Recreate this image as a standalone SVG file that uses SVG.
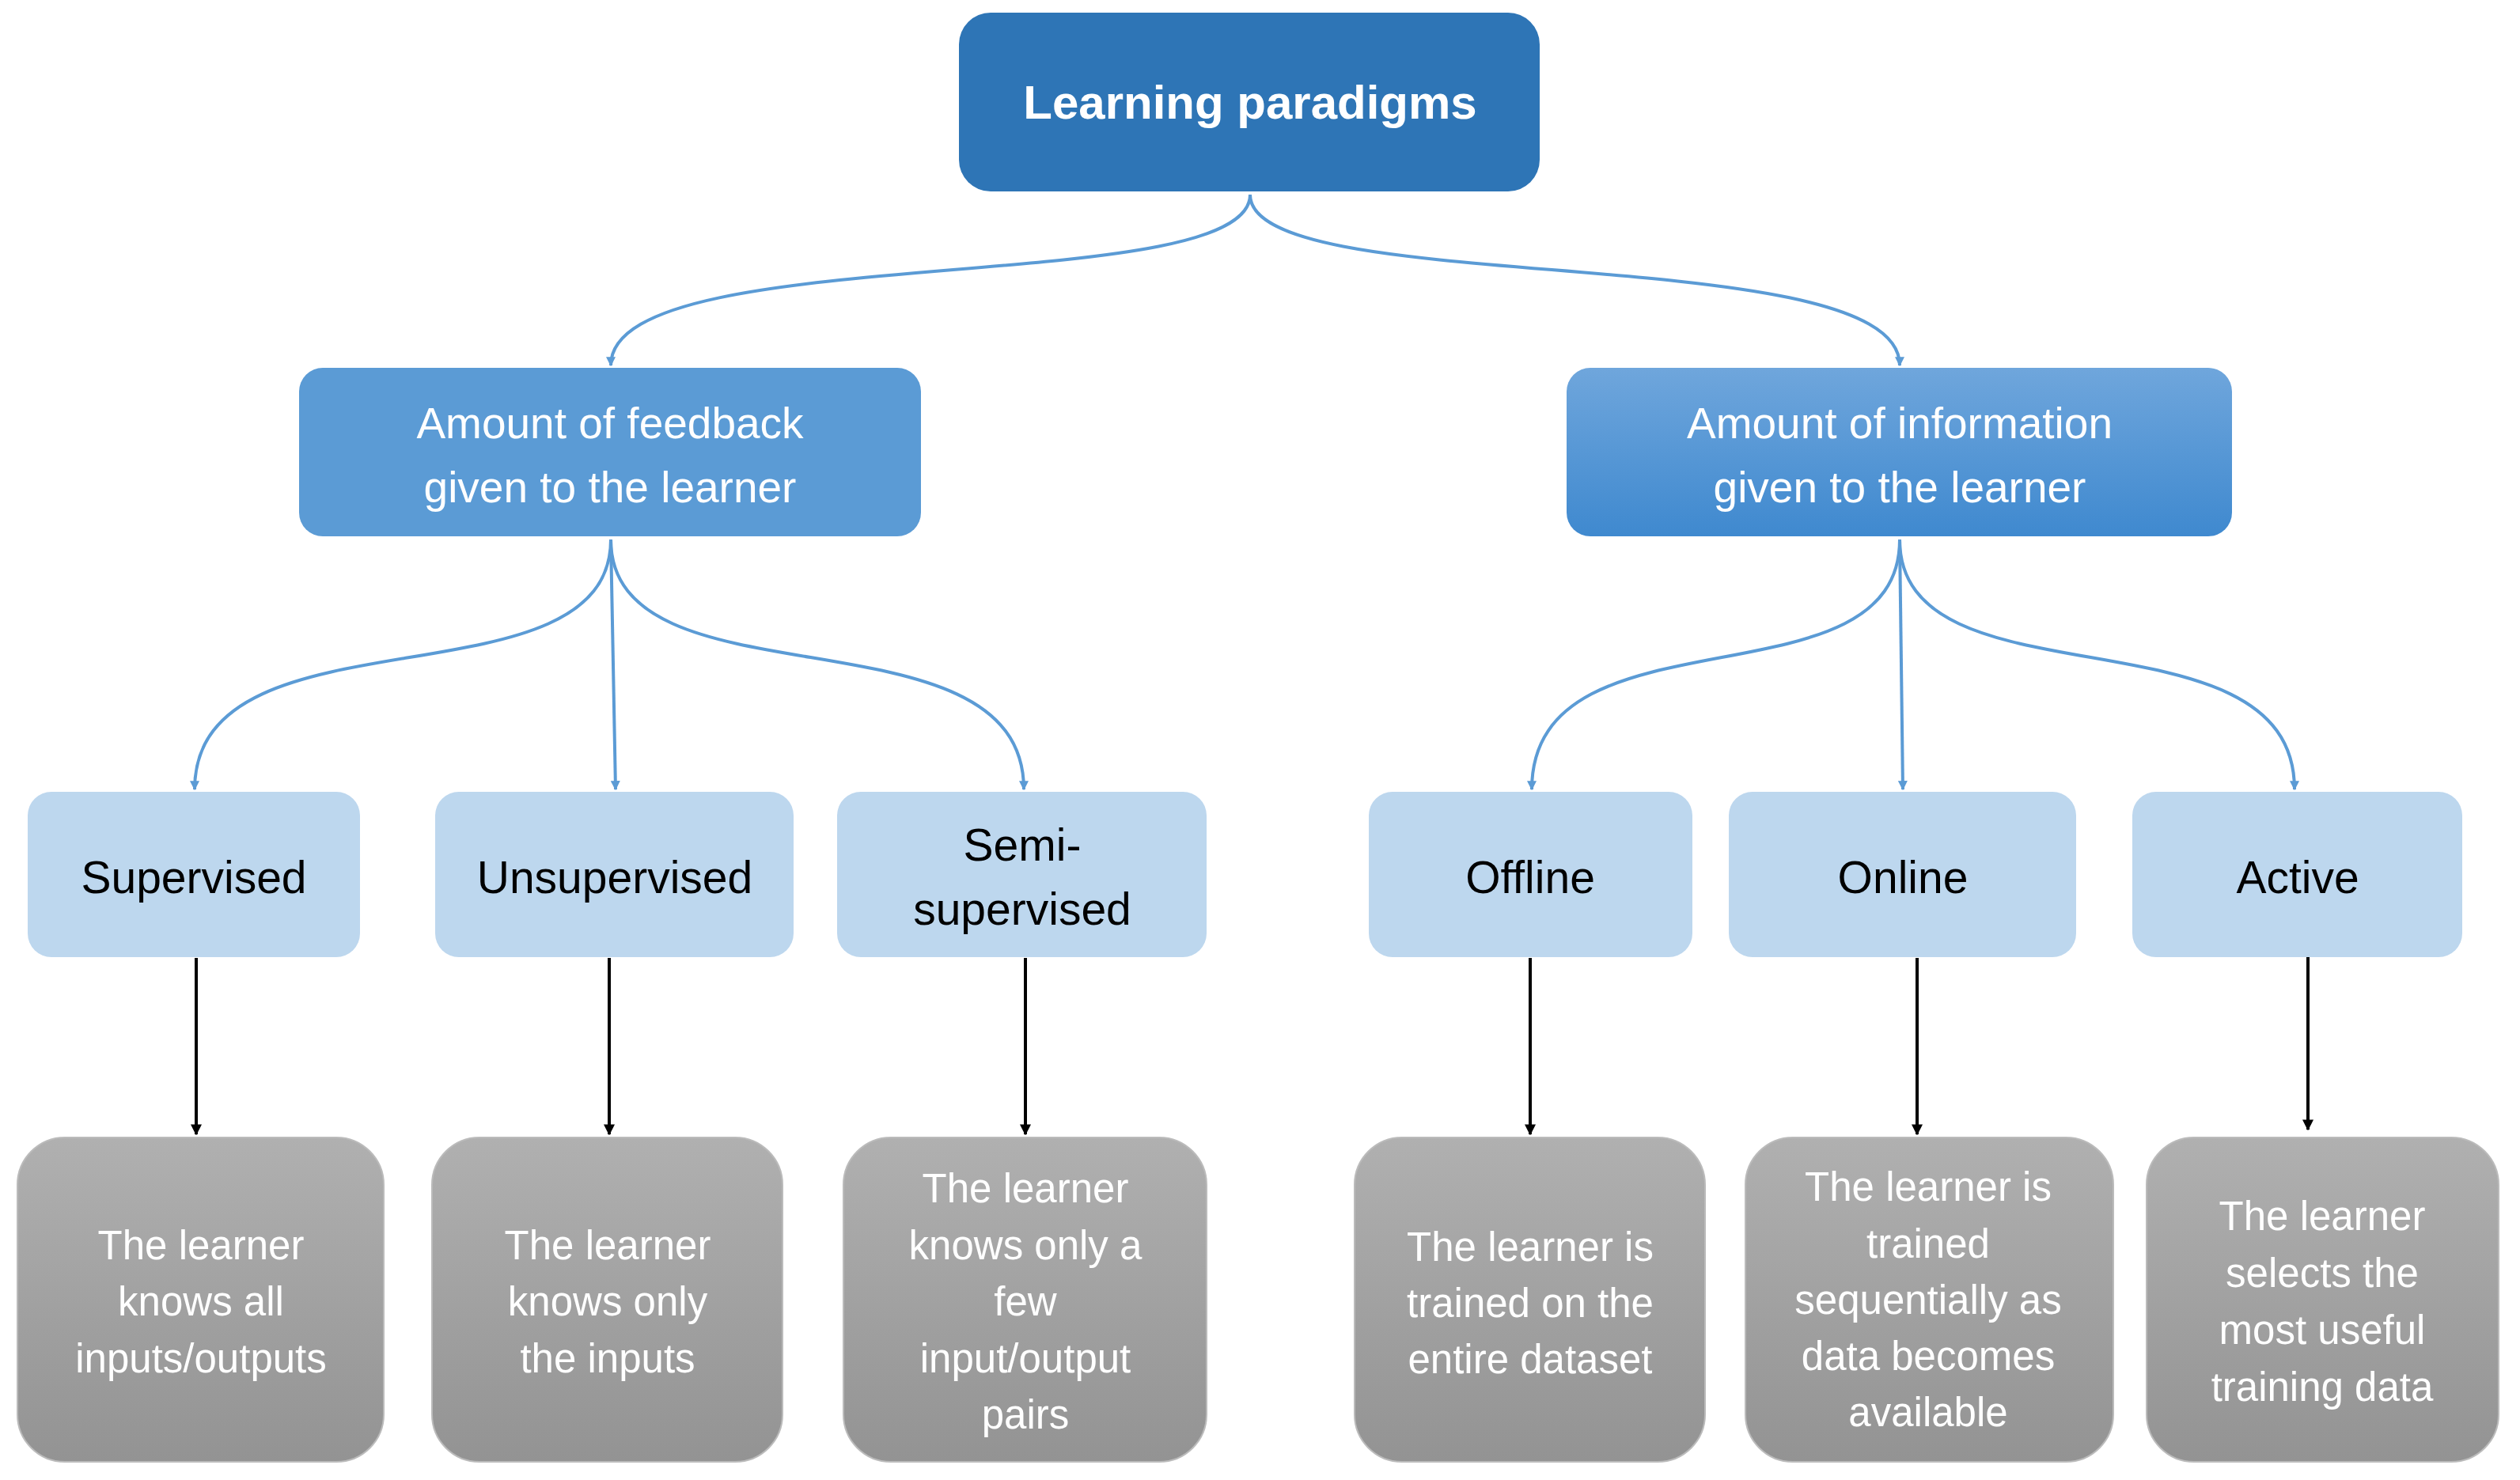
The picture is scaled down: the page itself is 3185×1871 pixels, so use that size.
<svg xmlns="http://www.w3.org/2000/svg" width="3185" height="1871" viewBox="0 0 3185 1871">
<defs>
<linearGradient id="gInfo" x1="0" y1="0" x2="0" y2="1"><stop offset="0" stop-color="#6FA6DC"/><stop offset="1" stop-color="#3F89CF"/></linearGradient>
<linearGradient id="gGrey" x1="0" y1="0" x2="0" y2="1"><stop offset="0" stop-color="#B0B0B0"/><stop offset="1" stop-color="#939393"/></linearGradient>
<marker id="ab" viewBox="0 0 10 10" refX="9" refY="5" markerWidth="12" markerHeight="12" markerUnits="userSpaceOnUse" orient="auto"><path d="M0,0 L10,5 L0,10 z" fill="#5B9BD5"/></marker>
<marker id="ak" viewBox="0 0 10 10" refX="9" refY="5" markerWidth="14" markerHeight="14" markerUnits="userSpaceOnUse" orient="auto"><path d="M0,0 L10,5 L0,10 z" fill="#000"/></marker>
</defs>
<style>
text{font-family:"Liberation Sans","Open Sans",sans-serif;text-anchor:middle}
.root{font-size:60px;font-weight:bold;fill:#fff}
.l1{font-size:55px;fill:#fff}
.l2{font-size:57px;fill:#000}
.d{font-size:51px;fill:#fff}
.b2{fill:#BDD7EE}
.g{fill:url(#gGrey);stroke:#BBBBBB;stroke-width:2}
.c{fill:none;stroke:#5B9BD5;stroke-width:4;marker-end:url(#ab)}
.k{fill:none;stroke:#000;stroke-width:4;marker-end:url(#ak)}
</style>
<g id="connectors">
<path class="c" d="M1580,246 C1580,380 772,300 772,462"/>
<path class="c" d="M1580,246 C1580,380 2401,300 2401,462"/>
<path class="c" d="M772,682 C772,900 246,760 246,998"/>
<path class="c" d="M772,682 L778,998"/>
<path class="c" d="M772,682 C772,900 1294,760 1294,998"/>
<path class="c" d="M2401,682 C2401,900 1936,760 1936,998"/>
<path class="c" d="M2401,682 L2405,998"/>
<path class="c" d="M2401,682 C2401,900 2900,760 2900,998"/>
<path class="k" d="M248,1211 L248,1434"/>
<path class="k" d="M770,1211 L770,1434"/>
<path class="k" d="M1296,1211 L1296,1434"/>
<path class="k" d="M1934,1211 L1934,1434"/>
<path class="k" d="M2423,1211 L2423,1434"/>
<path class="k" d="M2917,1205 L2917,1428"/>
</g>
<g id="root"><rect x="1212" y="16" width="734" height="226" rx="40" fill="#2E75B6"/><text class="root" x="1580" y="150">Learning paradigms</text></g>
<g id="feedback"><rect x="378" y="465" width="786" height="213" rx="30" fill="#5B9BD5"/><text class="l1" x="771" y="554">Amount of feedback</text><text class="l1" x="771" y="635">given to the learner</text></g>
<g id="information"><rect x="1980" y="465" width="841" height="213" rx="30" fill="url(#gInfo)"/><text class="l1" x="2401" y="554">Amount of information</text><text class="l1" x="2401" y="635">given to the learner</text></g>
<g id="supervised"><rect class="b2" x="35" y="1001" width="420" height="209" rx="30"/><text class="l2" x="245" y="1129">Supervised</text></g>
<g id="unsupervised"><rect class="b2" x="550" y="1001" width="453" height="209" rx="30"/><text class="l2" x="777" y="1129">Unsupervised</text></g>
<g id="semi"><rect class="b2" x="1058" y="1001" width="467" height="209" rx="30"/><text class="l2" x="1292" y="1088">Semi-</text><text class="l2" x="1292" y="1169">supervised</text></g>
<g id="offline"><rect class="b2" x="1730" y="1001" width="409" height="209" rx="30"/><text class="l2" x="1934" y="1129">Offline</text></g>
<g id="online"><rect class="b2" x="2185" y="1001" width="439" height="209" rx="30"/><text class="l2" x="2405" y="1129">Online</text></g>
<g id="active"><rect class="b2" x="2695" y="1001" width="417" height="209" rx="30"/><text class="l2" x="2904" y="1129">Active</text></g>
<g id="d-sup"><rect class="g" x="22" y="1438" width="463" height="410" rx="60"/><text class="d" x="254" y="1592">The learner</text><text class="d" x="254" y="1663">knows all</text><text class="d" x="254" y="1735">inputs/outputs</text></g>
<g id="d-unsup"><rect class="g" x="546" y="1438" width="443" height="410" rx="60"/><text class="d" x="768" y="1592">The learner</text><text class="d" x="768" y="1663">knows only</text><text class="d" x="768" y="1735">the inputs</text></g>
<g id="d-semi"><rect class="g" x="1066" y="1438" width="459" height="410" rx="60"/><text class="d" x="1296" y="1520">The learner</text><text class="d" x="1296" y="1592">knows only a</text><text class="d" x="1296" y="1663">few</text><text class="d" x="1296" y="1735">input/output</text><text class="d" x="1296" y="1806">pairs</text></g>
<g id="d-offline"><rect class="g" x="1712" y="1438" width="443" height="410" rx="60"/><text class="d" x="1934" y="1594">The learner is</text><text class="d" x="1934" y="1665">trained on the</text><text class="d" x="1934" y="1736">entire dataset</text></g>
<g id="d-online"><rect class="g" x="2206" y="1438" width="465" height="410" rx="60"/><text class="d" x="2437" y="1518">The learner is</text><text class="d" x="2437" y="1590">trained</text><text class="d" x="2437" y="1661">sequentially as</text><text class="d" x="2437" y="1732">data becomes</text><text class="d" x="2437" y="1803">available</text></g>
<g id="d-active"><rect class="g" x="2713" y="1438" width="445" height="410" rx="60"/><text class="d" x="2935" y="1555">The learner</text><text class="d" x="2935" y="1627">selects the</text><text class="d" x="2935" y="1699">most useful</text><text class="d" x="2935" y="1771">training data</text></g>
</svg>
